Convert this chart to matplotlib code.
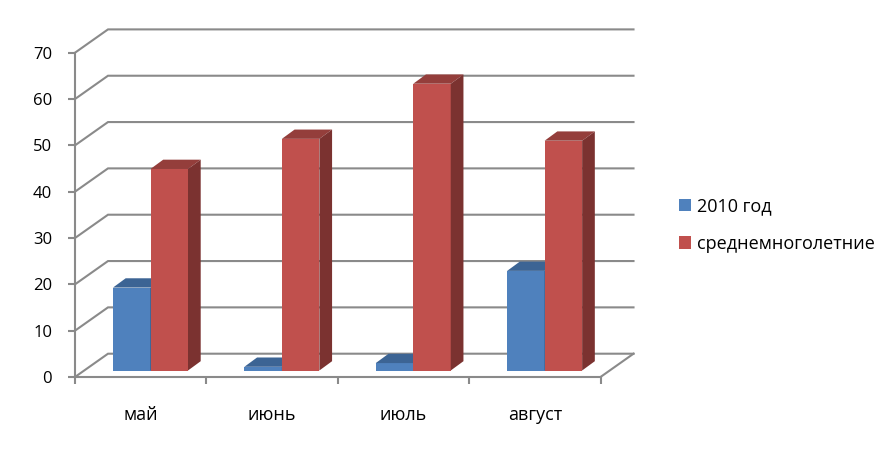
import matplotlib
matplotlib.use('Agg')
import matplotlib.pyplot as plt
from matplotlib.patches import Polygon

months = ['май', 'июнь', 'июль', 'август']
series_2010 = [17.9, 0.8, 1.6, 21.5]
series_avg = [43.5, 50.0, 61.9, 49.6]
y_ticks = [0, 10, 20, 30, 40, 50, 60, 70]

plt.rcParams['font.family'] = ['Open Sans', 'DejaVu Sans']
GREY = '#8A8A8A'

fig = plt.figure(figsize=(8.96, 4.49), dpi=100)
ax = fig.add_axes([75 / 896, 1 - 377 / 449, 525.5 / 896, 324.3 / 449])
ax.set_xlim(0, 4)
ax.set_ylim(0, 70)

# смещения в единицах данных
px_x = 4 / 525.5
px_y = 70 / 324.3
wall_dx = 33 * px_x
wall_dy = 23.3 * px_y
depth_x = 12.7 * px_x
depth_y = 9.3 * px_y
base = 6.5 * px_y
bar_w = 37.5 * px_x
start = 38 * px_x

# задняя стенка и пол
for v in y_ticks:
    ax.plot([0, wall_dx, 4 + wall_dx], [v, v + wall_dy, v + wall_dy],
            color=GREY, lw=1.5, clip_on=False, zorder=1, solid_joinstyle='miter')
ax.plot([4, 4 + wall_dx], [0, wall_dy], color=GREY, lw=1.5, clip_on=False, zorder=1)


def draw_bars(x_pos, values, front, top, side, label, z):
    bars = ax.bar(x_pos, values, bar_w, bottom=base, align='edge', color=front,
                  label=label, zorder=z, clip_on=False)
    for x, v in zip(x_pos, values):
        h = v + base
        ax.add_patch(Polygon([(x, h), (x + depth_x, h + depth_y),
                              (x + bar_w + depth_x, h + depth_y), (x + bar_w, h)],
                             color=top, lw=0, zorder=z, clip_on=False))
        ax.add_patch(Polygon([(x + bar_w, base), (x + bar_w + depth_x, base + depth_y),
                              (x + bar_w + depth_x, h + depth_y), (x + bar_w, h)],
                             color=side, lw=0, zorder=z, clip_on=False))
    return bars


x_blue = [i + start for i in range(len(months))]
x_red = [x + bar_w for x in x_blue]
b1 = draw_bars(x_blue, series_2010, '#4F81BD', '#3C6494', '#2F4F76', '2010 год', 3)
b2 = draw_bars(x_red, series_avg, '#C0504D', '#943E3B', '#7B3230', 'среднемноголетние', 4)

for s in ['top', 'right']:
    ax.spines[s].set_visible(False)
for s in ['left', 'bottom']:
    ax.spines[s].set_color(GREY)
    ax.spines[s].set_linewidth(1.5)
    ax.spines[s].set_zorder(2)

ax.set_yticks(y_ticks)
ax.tick_params(axis='y', colors=GREY, length=5, width=1.5, labelcolor='black',
               labelsize=12, pad=11.5)
ax.set_xticks(range(5))
ax.set_xticklabels([])
ax.set_xticks([i + 0.5 for i in range(4)], minor=True)
ax.set_xticklabels(months, minor=True)
ax.tick_params(axis='x', which='major', colors=GREY, length=5, width=1.5)
ax.tick_params(axis='x', which='minor', length=0, labelsize=13, pad=21, labelcolor='black')

fig.legend(handles=[b1, b2], frameon=False, fontsize=13, loc='upper left',
           bbox_to_anchor=(664.6 / 896, 1 - 182.6 / 449), handlelength=0.66, handleheight=0.66,
           handletextpad=0.33, labelspacing=1.1, borderpad=0.3)

plt.savefig('out.png', dpi=100)
plt.close()
